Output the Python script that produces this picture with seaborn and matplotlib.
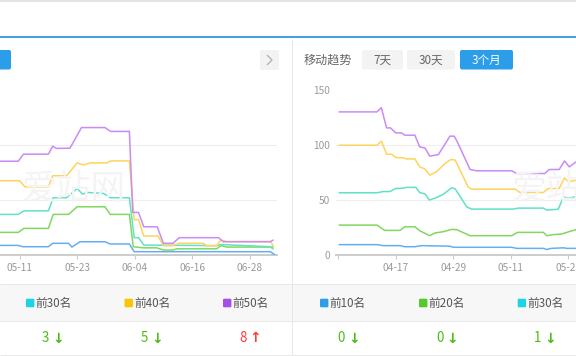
import matplotlib
matplotlib.use("Agg")
import matplotlib.pyplot as plt
import seaborn as sns
from matplotlib.patches import Rectangle, FancyBboxPatch
from matplotlib.lines import Line2D

# ---------------- data ----------------
# Left chart: days counted from 05-11
LEFT_TICK_DAYS = [0, 12, 24, 36, 48]
LEFT_TICK_LABELS = ["05-11", "05-23", "06-04", "06-16", "06-28"]
LEFT_TOP10 = [(-4.2, 8.7), (-0.3, 8.7), (0.7, 7.5), (6.0, 7.5), (6.9, 10.6), (10.2, 10.6), (10.9, 7.2),
              (12.6, 12), (17.8, 12), (18.9, 10), (22.9, 10), (23.9, 3), (52.3, 3), (53.3, 0)]
LEFT_TOP20 = [(-4.2, 20.5), (-0.3, 20.5), (0.9, 24.1), (6.0, 24.1), (7.0, 36.8), (10.2, 36.8), (12.0, 43.7),
              (17.8, 43.7), (18.9, 36.8), (22.9, 36.8), (23.7, 7.5), (25.8, 6.5), (28.6, 6.5), (30.0, 4.5),
              (32.0, 4.5), (32.8, 5.6), (41.1, 5.6), (42.0, 8.5), (43.2, 7.2), (52.9, 7.2)]
LEFT_TOP30 = [(-4.2, 36.8), (-0.3, 36.8), (0.9, 40), (6.0, 40), (7.0, 51.9), (9.8, 51.9), (12.0, 60.3),
              (13.1, 55.2), (14.1, 56.7), (17.5, 55.8), (18.9, 51.9), (22.9, 51.9), (23.9, 15.7), (24.8, 15.7),
              (25.9, 9.0), (41.1, 8.5), (42.0, 9.5), (52.3, 7.5), (52.9, 5.4)]
LEFT_TOP40 = [(-4.2, 67.3), (0.0, 67.3), (1.1, 61.8), (6.0, 61.8), (6.9, 71.8), (9.8, 71.8), (12.0, 83.5),
              (13.3, 81.6), (14.8, 83.5), (18.2, 83.5), (19.0, 85.3), (22.9, 85.3), (23.9, 32.0), (24.8, 32.0),
              (25.9, 17.2), (28.9, 17.2), (30.0, 8.4), (32.0, 8.4), (33.3, 10.6), (38.3, 10.6), (39.0, 8.4),
              (41.1, 8.4), (42.0, 13.5), (43.2, 12.3), (52.3, 12.3), (52.9, 8.5)]
LEFT_TOP50 = [(-4.2, 85), (-0.3, 85), (0.8, 91.4), (6.0, 91.4), (6.9, 98.6), (7.7, 96.6), (10.5, 96.8),
              (12.9, 115.5), (17.8, 115.5), (19.0, 112), (22.9, 112), (23.6, 38.6), (24.8, 38.6), (25.9, 25.6),
              (28.7, 25.6), (30.0, 10.6), (32.0, 10.6), (33.3, 15.7), (41.5, 15.7), (42.5, 12), (52.3, 12),
              (52.9, 13.5)]

# Right chart: days counted from 04-05
RIGHT_TICK_DAYS = [0, 12, 24, 36, 48]
RIGHT_TICK_LABELS = ["", "04-17", "04-29", "05-11", "05-23"]
RIGHT_TOP10 = [(0.2, 9.4), (8.1, 9.4), (9.4, 8.5), (12.9, 8.5), (13.9, 7.5), (16.0, 7.5), (17.4, 8.5),
               (23.3, 8), (24.0, 7), (36.2, 7), (37.2, 6), (42.8, 6), (43.5, 5), (44.4, 6), (47.0, 6.5),
               (47.7, 6), (49.8, 6)]
RIGHT_TOP20 = [(0.2, 27.1), (8.1, 27.1), (9.7, 22.3), (12.9, 22.3), (13.9, 25.6), (16.0, 25.6), (17.0, 22),
               (19.1, 17.5), (20.2, 20), (21.9, 21.1), (23.7, 23.2), (24.7, 23), (27.5, 17.5), (36.2, 17.5),
               (37.4, 20.5), (42.8, 20.5), (43.5, 17.5), (44.9, 18.5), (46.6, 19), (48.4, 21.5), (49.8, 23.2)]
RIGHT_TOP30 = [(0.2, 56.4), (8.1, 56.4), (9.4, 57.5), (10.8, 57.5), (12.0, 60.3), (13.6, 60.5), (14.2, 61.3),
               (16.2, 61.3), (17.0, 56.5), (18.1, 55.5), (19.0, 49.8), (20.5, 52), (21.9, 55), (23.7, 60.9),
               (24.4, 60), (26.8, 43.7), (27.8, 41.6), (36.5, 41.6), (37.5, 42.5), (42.8, 42.5), (43.5, 40.7),
               (45.9, 41.5), (47.0, 52.8), (48.0, 51.5), (49.8, 53)]
RIGHT_TOP40 = [(0.2, 99.5), (8.1, 99.5), (9.0, 103.2), (10.1, 91.4), (11.1, 91.4), (12.0, 88.4), (13.6, 88),
               (14.2, 87.1), (16.0, 87.1), (17.0, 79.9), (18.1, 78), (19.1, 72.4), (20.5, 75.4), (22.3, 83),
               (23.5, 86.6), (24.4, 86), (27.1, 61.8), (27.8, 59.7), (36.9, 59.7), (37.9, 56.7), (42.8, 56.7),
               (43.8, 60.3), (46.1, 60.3), (47.2, 70), (48.0, 66.3), (49.8, 68)]
RIGHT_TOP50 = [(0.2, 129.7), (8.1, 129.7), (9.0, 133.6), (10.1, 115.2), (10.9, 115.2), (12.0, 110.7),
               (13.2, 110.7), (13.9, 108.6), (16.0, 108.6), (17.0, 98), (18.1, 97), (19.1, 89.6), (20.9, 91),
               (22.5, 102), (23.3, 107.7), (24.2, 107.7), (24.8, 103), (27.5, 77.5), (28.9, 76.3), (36.2, 76.3),
               (37.2, 73.9), (43.1, 73.9), (44.0, 77.5), (46.1, 77.5), (47.2, 85.3), (48.2, 79.9), (49.8, 85)]

Y_TICKS = [0, 50, 100, 150]

LEFT_LEGEND = ["前30名", "前40名", "前50名"]
LEFT_CHANGE = ["3", "5", "8"]
LEFT_DIR = ["down", "down", "up"]
RIGHT_LEGEND = ["前10名", "前20名", "前30名"]
RIGHT_CHANGE = ["0", "0", "1"]
RIGHT_DIR = ["down", "down", "down"]

PERIOD_BUTTONS = ["7天", "30天", "3个月"]
TITLE = "移动趋势"

# ---------------- style ----------------
LINE_COLORS = {"10": "#63aff2", "20": "#80d860", "30": "#5fe2c6", "40": "#ffd35c", "50": "#c98bf5"}
LEG_COLORS = {"前10名": "#2f9ee9", "前20名": "#52c92d", "前30名": "#1ed3e4", "前40名": "#f9c602", "前50名": "#a64fe7"}

W, H = 576, 356
sns.set_theme(style="white")
plt.rcParams["font.family"] = ["Noto Sans CJK SC", "DejaVu Sans"]

fig = plt.figure(figsize=(W / 100, H / 100), dpi=100)
fig.patch.set_facecolor("white")


def fx(x):
    return x / W


def fy(y):
    return 1 - y / H


def rect(x0, y0, x1, y1, color, r=0, z=0.5):
    if r:
        p = FancyBboxPatch((fx(x0), fy(y1)), (x1 - x0) / W, (y1 - y0) / H,
                           boxstyle=f"round,pad=0,rounding_size={r / W}", mutation_aspect=W / H,
                           transform=fig.transFigure, facecolor=color, edgecolor="none", zorder=z)
    else:
        p = Rectangle((fx(x0), fy(y1)), (x1 - x0) / W, (y1 - y0) / H, transform=fig.transFigure,
                      facecolor=color, edgecolor="none", zorder=z)
    fig.patches.append(p)


def seg(xs, ys, color, lw=1.0, z=1):
    fig.add_artist(Line2D([fx(x) for x in xs], [fy(y) for y in ys], transform=fig.transFigure,
                          color=color, lw=lw * 0.72, zorder=z, solid_capstyle="butt"))


# header
rect(0, 0, W, 2, "#e4e4e4")
rect(0, 36, W, 38, "#3fa2e8")

# left panel controls
rect(-6, 50, 11, 69.5, "#2b9de9", r=2)
rect(260, 50, 279, 70, "#f3f3f3", r=1)
seg([267, 272, 267], [55, 60, 65], "#b0b0b0", lw=1.3, z=2)

# right panel controls
fig.text(fx(304), fy(60), TITLE, fontsize=8.7, color="#666666", va="center", ha="left")
btn_boxes = [(362, 403), (407, 455), (460, 513)]
for label, (x0, x1) in zip(PERIOD_BUTTONS, btn_boxes):
    active = label == "3个月"
    rect(x0, 50, x1, 69.5, "#2b9de9" if active else "#f3f3f3", r=2)
    fig.text(fx((x0 + x1) / 2), fy(60), label, fontsize=8.4,
             color="white" if active else "#666666", va="center", ha="center")

# panel divider
seg([291.5, 291.5], [39, 356], "#e6e6e6", lw=1)

# legend band & lines
rect(0, 284, W, 321, "#f7f7f7", z=0.2)
seg([0, W], [284, 284], "#e8e8e8", lw=1)
seg([0, W], [321, 321], "#e8e8e8", lw=1)
seg([0, W], [355, 355], "#e8e8e8", lw=1)

# watermarks
fig.text(fx(22), fy(190), "爱站网", fontsize=25, color="#f4f4f4", va="center", ha="left", zorder=0.3)
fig.text(fx(512), fy(190), "爱站网", fontsize=25, color="#f4f4f4", va="center", ha="left", zorder=0.3)


def style_axis(ax, xlim, ticks, labels, show_y):
    ax.set_facecolor("none")
    ax.set_xlim(*xlim)
    ax.set_ylim(0, 150)
    ax.set_yticks(Y_TICKS)
    ax.set_xticks(ticks)
    ax.set_xticklabels(labels)
    ax.grid(axis="y", color="#eeeeee", lw=0.8)
    ax.grid(axis="x", visible=False)
    for s in ["top", "right", "left"]:
        ax.spines[s].set_visible(False)
    ax.spines["bottom"].set_color("#cccccc")
    ax.spines["bottom"].set_linewidth(1.4)
    ax.tick_params(axis="x", bottom=True, length=3, width=0.8, color="#cccccc",
                   labelsize=7.3, labelcolor="#999999", pad=2.5)
    if show_y:
        ax.tick_params(axis="y", left=False, length=0, labelsize=7.3, labelcolor="#999999", pad=4.5)
    else:
        ax.tick_params(axis="y", left=False, labelleft=False)
    ax.set_xlabel("")
    ax.set_ylabel("")


def draw_series(ax, series):
    for key, pts in series:
        xs = [p[0] for p in pts]
        ys = [p[1] for p in pts]
        sns.lineplot(x=xs, y=ys, ax=ax, color=LINE_COLORS[key], linewidth=1.1,
                     estimator=None, sort=False, zorder=3)


axL = fig.add_axes([fx(0), fy(255), fx(277), (255 - 89.5) / H])
draw_series(axL, [("10", LEFT_TOP10), ("20", LEFT_TOP20), ("30", LEFT_TOP30),
                  ("40", LEFT_TOP40), ("50", LEFT_TOP50)])
style_axis(axL, (-4.1, 53.7), LEFT_TICK_DAYS, LEFT_TICK_LABELS, False)

axR = fig.add_axes([fx(336), fy(255), fx(576) - fx(336), (255 - 89.5) / H])
draw_series(axR, [("10", RIGHT_TOP10), ("20", RIGHT_TOP20), ("30", RIGHT_TOP30),
                  ("40", RIGHT_TOP40), ("50", RIGHT_TOP50)])
style_axis(axR, (-0.45, 49.6), RIGHT_TICK_DAYS, RIGHT_TICK_LABELS, True)


# legend row and change row
def legend_row(names, square_x):
    for name, x in zip(names, square_x):
        rect(x, 298.7, x + 8.4, 307.3, LEG_COLORS[name], r=1.2, z=1)
        fig.text(fx(x + 9.5), fy(303), name, fontsize=8.4, color="#555555", va="center", ha="left")


def change_row(values, dirs, num_right, arrow_cx):
    for v, d, xr, xa in zip(values, dirs, num_right, arrow_cx):
        col = "#4cbb17" if d == "down" else "#ff3b3b"
        fig.text(fx(xr), fy(338), v, fontsize=9.6, color=col, va="center", ha="right")
        fig.text(fx(xa), fy(338.5), "↓" if d == "down" else "↑", fontsize=10, fontweight="bold",
                 color=col, va="center", ha="center", family="DejaVu Sans")


legend_row(LEFT_LEGEND, [26, 124.5, 223])
legend_row(RIGHT_LEGEND, [320, 419, 517.7])
change_row(LEFT_CHANGE, LEFT_DIR, [49.5, 148.5, 247], [58, 157, 255.5])
change_row(RIGHT_CHANGE, RIGHT_DIR, [344.5, 443.5, 541], [354, 452, 550.5])

fig.savefig("out.png", dpi=100, facecolor="white")
